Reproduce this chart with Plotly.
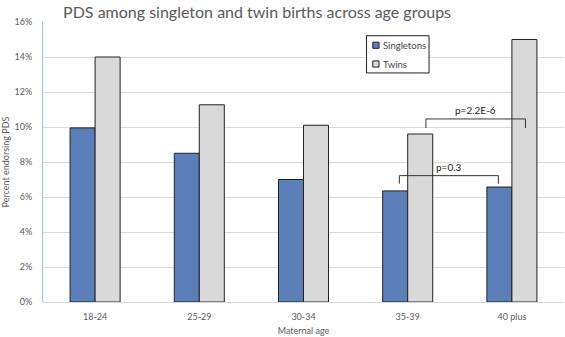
import plotly.graph_objects as go

categories = ["18-24", "25-29", "30-34", "35-39", "40 plus"]
singletons = [9.95, 8.5, 7.0, 6.35, 6.57]
twins = [14.0, 11.27, 10.1, 9.6, 15.0]
y_ticks = [0, 2, 4, 6, 8, 10, 12, 14, 16]
y_tick_labels = [f"{v}%" for v in y_ticks]
series_names = ["Singletons", "Twins"]
series_colors = ["#5A7FB9", "#D9D9D9"]

# significance brackets: (x0, x1, top, bottom, label)
brackets = [
    (2.92, 3.87, 7.22, 6.76, "p=0.3"),
    (3.175, 4.13, 10.46, 9.94, "p=2.2E-6"),
]

FONT = "Lato, 'Open Sans', sans-serif"

fig = go.Figure()
for name, vals, col in zip(series_names, [singletons, twins], series_colors):
    fig.add_trace(go.Bar(
        name=name, x=categories, y=vals,
        marker=dict(color=col, line=dict(color="#222222", width=1)),
    ))

for x0, x1, top, bot, label in brackets:
    fig.add_shape(type="path", xref="x", yref="y",
                  path=f"M {x0},{bot} L {x0},{top} L {x1},{top} L {x1},{bot}",
                  line=dict(color="#333333", width=1))
    fig.add_annotation(x=(x0 + x1) / 2, y=top, xref="x", yref="y",
                       text=label, showarrow=False, yanchor="bottom", yshift=1,
                       font=dict(family=FONT, size=10, color="#222222"))

# manual legend (small square markers, as in the reference)
fig.add_shape(type="rect", xref="paper", yref="paper",
              x0=0.621, x1=0.741, y0=0.818, y1=0.951,
              line=dict(color="#222222", width=1), fillcolor="white")
leg_y = [0.917, 0.850]
for name, col, ly in zip(series_names, series_colors, leg_y):
    fig.add_shape(type="rect", xref="paper", yref="paper",
                  x0=0.633, x1=0.645, y0=ly - 0.011, y1=ly + 0.011,
                  line=dict(color="#222222", width=1), fillcolor=col)
    fig.add_annotation(x=0.648, y=ly, xref="paper", yref="paper",
                       text=name, showarrow=False, xanchor="left", yanchor="middle",
                       font=dict(family=FONT, size=9.5, color="#444444"))

fig.update_layout(
    width=565, height=337,
    margin=dict(l=43, r=1, t=22, b=35),
    paper_bgcolor="white", plot_bgcolor="white",
    barmode="group", bargap=0.52, bargroupgap=0,
    title=dict(text="PDS among singleton and twin births across age groups",
               x=0.455, xanchor="center", y=1 - 12.5 / 337, yanchor="middle",
               font=dict(family=FONT, size=16, color="#595959")),
    font=dict(family=FONT, size=9, color="#595959"),
    showlegend=False,
    xaxis=dict(type="category", showgrid=False, showline=True,
               linecolor="#D9D9D9", linewidth=1, ticks="",
               range=[-0.5, 4.5], ticklabelstandoff=6,
               title=dict(text="Maternal age", standoff=6,
                          font=dict(family=FONT, size=9, color="#595959"))),
    yaxis=dict(range=[0, 16], tickvals=y_ticks, ticktext=y_tick_labels,
               showgrid=True, gridcolor="#D9D9D9", gridwidth=1,
               showline=True, linecolor="#9DC3E6", linewidth=1,
               zeroline=False, ticks="", ticklabelstandoff=8,
               title=dict(text="Percent endorsing PDS", standoff=4,
                          font=dict(family=FONT, size=9, color="#595959"))),
)

fig.write_html("out.html")
